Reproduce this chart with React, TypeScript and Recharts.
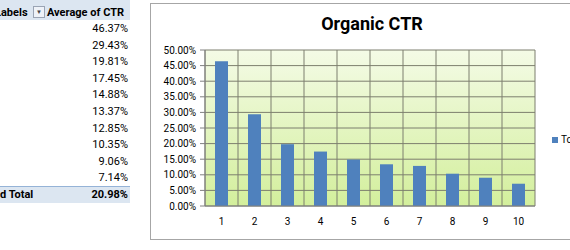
import React from 'react';
import { BarChart, Bar, XAxis, YAxis, CartesianGrid } from 'recharts';

const positions = ['1', '2', '3', '4', '5', '6', '7', '8', '9', '10'];
const ctrValues = [46.37, 29.43, 19.81, 17.45, 14.88, 13.37, 12.85, 10.35, 9.06, 7.14];
const grandTotal = 20.98;
const yTicks = [0, 5, 10, 15, 20, 25, 30, 35, 40, 45, 50];
const seriesName = 'Total';
const chartTitle = 'Organic CTR';
const rowHeaderLabel = 'Labels';
const valueHeaderLabel = 'Average of CTR';
const totalLabel = 'd Total';

const data = positions.map((p, i) => ({ position: p, ctr: ctrValues[i] }));

const fmt = (v: number) => `${v.toFixed(2)}%`;

const FONT = 'Roboto, "Liberation Sans", sans-serif';

export default function App() {
  const rowStart = 29;
  const rowStep = 16.6;
  return (
    <div style={{ position: 'fixed', left: 0, top: 0, width: 570, height: 250, overflow: 'hidden', background: '#fff', fontFamily: FONT }}>
      {/* pivot table */}
      <div style={{ position: 'absolute', left: 0, top: 0, width: 130, height: 20, background: '#dce6f1' }} />
      <div style={{ position: 'absolute', left: -5, top: 5, height: 16, lineHeight: '16px', fontSize: 11, fontWeight: 700 }}>{rowHeaderLabel}</div>
      <div style={{ position: 'absolute', left: 33, top: 6, width: 10, height: 10, border: '1px solid #9aa4b4', background: '#eef2f8', fontSize: 6, lineHeight: '10px', textAlign: 'center', color: '#444' }}>▼</div>
      <div style={{ position: 'absolute', left: 47, top: 5, height: 16, lineHeight: '16px', fontSize: 11, fontWeight: 700 }}>{valueHeaderLabel}</div>
      {ctrValues.map((v, i) => (
        <div key={i} style={{ position: 'absolute', right: 570 - 128, top: rowStart + rowStep * i - 8, height: 16, lineHeight: '16px', fontSize: 11, textAlign: 'right' }}>{fmt(v)}</div>
      ))}
      <div style={{ position: 'absolute', left: 0, top: 186, width: 130, height: 16, background: '#dce6f1', borderTop: '1px solid #95b3d7' }} />
      <div style={{ position: 'absolute', left: 0, top: 187, height: 16, lineHeight: '16px', fontSize: 11, fontWeight: 700 }}>{totalLabel}</div>
      <div style={{ position: 'absolute', right: 570 - 128, top: 187, height: 16, lineHeight: '16px', fontSize: 11, fontWeight: 700 }}>{fmt(grandTotal)}</div>

      {/* chart frame */}
      <div style={{ position: 'absolute', left: 150, top: 3, width: 440, height: 237, border: '1px solid #a6a6a6', boxSizing: 'border-box' }} />
      <div style={{ position: 'absolute', left: 272, top: 12, width: 200, textAlign: 'center', fontSize: 18, fontWeight: 700, lineHeight: '24px' }}>{chartTitle}</div>

      <div style={{ position: 'absolute', left: 150, top: 0 }}>
        <BarChart width={420} height={250} data={data} margin={{ top: 50, right: 35, bottom: 14, left: 0 }}>
          <defs>
            <linearGradient id="plotGrad" x1="0" y1="0" x2="0" y2="1">
              <stop offset="0%" stopColor="#f4fbe6" />
              <stop offset="100%" stopColor="#d3ef9c" />
            </linearGradient>
          </defs>
          <CartesianGrid
            fill="url(#plotGrad)"
            fillOpacity={1}
            stroke="#7d7f6e"
            strokeWidth={1}
            verticalCoordinatesGenerator={({ offset }: any) =>
              Array.from({ length: positions.length + 1 }, (_, i) => offset.left + (i * offset.width) / positions.length)
            }
          />
          <XAxis
            dataKey="position"
            height={30}
            tickLine={false}
            tickSize={8}
            tickMargin={4}
            axisLine={{ stroke: '#808080' }}
            tick={{ fill: '#000', fontSize: 10, fontFamily: FONT }}
            interval={0}
          />
          <YAxis
            width={55}
            domain={[0, 50]}
            ticks={yTicks}
            tickFormatter={fmt}
            tickSize={5}
            tickMargin={4}
            tickLine={{ stroke: '#808080' }}
            axisLine={{ stroke: '#808080' }}
            tick={{ fill: '#000', fontSize: 10, fontFamily: FONT }}
            interval={0}
          />
          <Bar dataKey="ctr" name={seriesName} fill="#4f81bd" barSize={13} isAnimationActive={false} />
        </BarChart>
      </div>

      {/* legend */}
      <div style={{ position: 'absolute', left: 552, top: 132, display: 'flex', alignItems: 'center', fontSize: 10, lineHeight: '16px', whiteSpace: 'nowrap' }}>
        <span style={{ display: 'inline-block', width: 6, height: 6, background: '#4f81bd', marginRight: 3 }} />
        <span>{seriesName}</span>
      </div>
    </div>
  );
}
